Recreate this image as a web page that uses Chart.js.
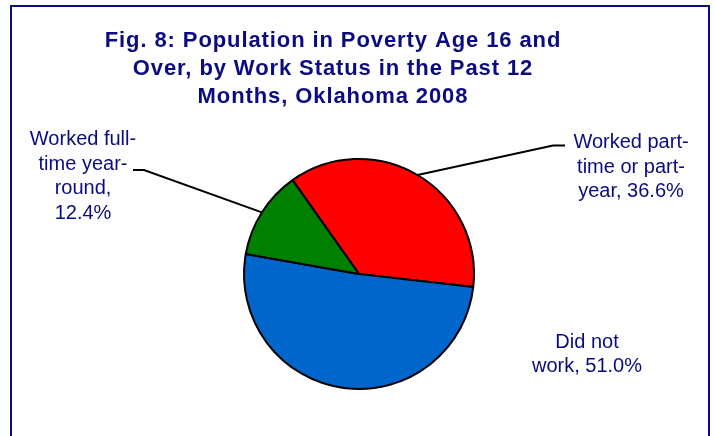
<!DOCTYPE html>
<html>
<head>
<meta charset="utf-8">
<script src="https://cdn.jsdelivr.net/npm/chart.js@4/dist/chart.umd.min.js"></script>
<style>
  html, body { margin: 0; padding: 0; background: #fff; }
  #wrap { width: 715px; height: 436px; position: relative; }
</style>
</head>
<body>
<div id="wrap"><canvas id="povertyPie" width="715" height="436"></canvas></div>
<script>
// chart data
var titleLines = ["Fig. 8: Population in Poverty Age 16 and", "Over, by Work Status in the Past 12", "Months, Oklahoma 2008"];
var categories = ["Worked part-time or part-year", "Did not work", "Worked full-time year-round"];
var shares = [36.6, 51.0, 12.4];
var sliceColors = ["#FF0000", "#0066CC", "#008000"];
// how each category label is broken into lines (share is appended to the last one)
var labelLines = [
    ["Worked part-", "time or part-", "year, "],
    ["Did not", "work, "],
    ["Worked full-", "time year-", "round,", ""]
];

var navy = "#0b0b80";

// where labels sit and where their leader lines bend (layout only)
var labelLayout = [
    { x: 631, y: 148, leader: { x: 553, y: 145.5, end: 565 } },
    { x: 587, y: 347.5, leader: null },
    { x: 83, y: 145, leader: { x: 144, y: 170, end: 133 } }
];

const framePlugin = {
    id: "frame",
    beforeDraw(chart) {
        const ctx = chart.ctx
        ctx.save()
        ctx.fillStyle = "#fff"
        ctx.fillRect(0, 0, chart.width, chart.height)
        ctx.strokeStyle = navy
        ctx.lineWidth = 2
        ctx.strokeRect(11, 6, 698, 520)
        // title
        ctx.fillStyle = navy
        ctx.font = "bold 22px 'Liberation Sans', Arial, sans-serif"
        ctx.letterSpacing = "0.9px"
        ctx.textAlign = "center"
        ctx.textBaseline = "alphabetic"
        titleLines.forEach((line, i) => ctx.fillText(line, 333, 47 + i * 28))
        ctx.restore()
    }
}

const labelPlugin = {
    id: "sliceLabels",
    afterDatasetsDraw(chart) {
        const ctx = chart.ctx
        const meta = chart.getDatasetMeta(0)
        ctx.save()
        meta.data.forEach((arc, i) => {
            const p = arc.getProps(["x", "y", "startAngle", "endAngle", "outerRadius"], true)
            const mid = (p.startAngle + p.endAngle) / 2
            const lay = labelLayout[i]
            if (lay.leader) {
                ctx.strokeStyle = "#000"
                ctx.lineWidth = 2
                ctx.beginPath()
                ctx.moveTo(p.x + Math.cos(mid) * p.outerRadius, p.y + Math.sin(mid) * p.outerRadius)
                ctx.lineTo(lay.leader.x, lay.leader.y)
                ctx.lineTo(lay.leader.end, lay.leader.y)
                ctx.stroke()
            }
            ctx.fillStyle = navy
            ctx.font = "20px 'Liberation Sans', Arial, sans-serif"
            ctx.textAlign = "center"
            const lines = labelLines[i].slice()
            lines[lines.length - 1] += shares[i].toFixed(1) + "%"
            lines.forEach((line, j) => ctx.fillText(line, lay.x, lay.y + j * 24.5))
        })
        ctx.restore()
    }
}

new Chart(document.getElementById("povertyPie").getContext("2d"), {
    type: "pie",
    data: {
        labels: categories,
        datasets: [{
            data: shares,
            backgroundColor: sliceColors,
            borderColor: "#000",
            borderWidth: 2,
        }],
    },
    options: {
        responsive: false,
        animation: false,
        rotation: -35.3,
        radius: 115,
        layout: { padding: { left: 209, right: 206, top: 124, bottom: 12 } },
        plugins: {
            legend: { display: false },
            tooltip: { enabled: false },
            title: { display: false },
        },
    },
    plugins: [framePlugin, labelPlugin],
})
</script>
</body>
</html>
